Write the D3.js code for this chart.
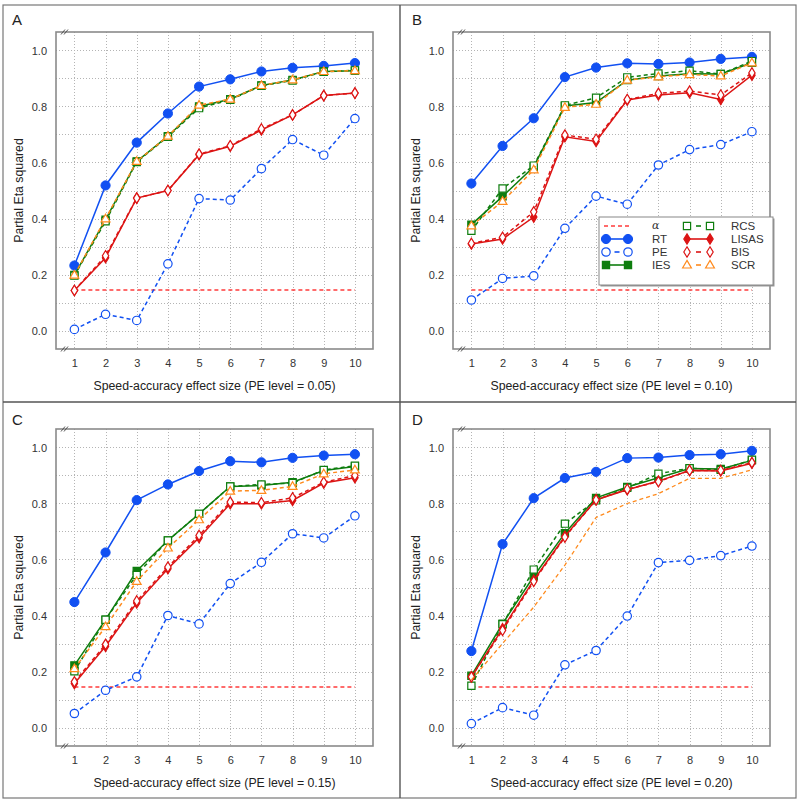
<!DOCTYPE html>
<html>
<head>
<meta charset="utf-8">
<script src="https://cdn.jsdelivr.net/npm/d3@7"></script>
<style>
  html, body { margin: 0; padding: 0; background: #fff; }
  svg { display: block; font-family: "Liberation Sans", Arial, sans-serif; }
</style>
</head>
<body>
<svg id="chart" width="800" height="800"></svg>
<script>
// Data
const effectSizes = [1, 2, 3, 4, 5, 6, 7, 8, 9, 10];
const panelLetters = ['A', 'B', 'C', 'D'];
const peLevels = ['0.05', '0.10', '0.15', '0.20'];
const yTicks = [0.0, 0.2, 0.4, 0.6, 0.8, 1.0];
const yGrid = [0.0, 0.1, 0.2, 0.3, 0.4, 0.5, 0.6, 0.7, 0.8, 0.9, 1.0];
const alphaLevel = 0.145;

// one row per panel (A, B, C, D)
const RT = [
    [0.232, 0.518, 0.671, 0.775, 0.871, 0.897, 0.925, 0.938, 0.945, 0.955],
    [0.525, 0.659, 0.758, 0.905, 0.939, 0.954, 0.952, 0.957, 0.970, 0.977],
    [0.448, 0.625, 0.812, 0.868, 0.916, 0.951, 0.947, 0.963, 0.971, 0.976],
    [0.273, 0.655, 0.819, 0.891, 0.913, 0.962, 0.964, 0.973, 0.976, 0.988]
];
const PE = [
    [0.004, 0.058, 0.036, 0.238, 0.471, 0.466, 0.578, 0.682, 0.626, 0.757],
    [0.109, 0.186, 0.195, 0.365, 0.480, 0.451, 0.591, 0.646, 0.664, 0.710],
    [0.050, 0.133, 0.181, 0.400, 0.370, 0.514, 0.590, 0.692, 0.677, 0.756],
    [0.014, 0.071, 0.044, 0.224, 0.275, 0.398, 0.589, 0.597, 0.614, 0.648]
];
const IES = [
    [0.198, 0.396, 0.604, 0.694, 0.800, 0.826, 0.875, 0.895, 0.925, 0.928],
    [0.378, 0.479, 0.585, 0.802, 0.814, 0.894, 0.909, 0.917, 0.916, 0.956],
    [0.222, 0.385, 0.559, 0.668, 0.763, 0.861, 0.864, 0.876, 0.918, 0.932],
    [0.185, 0.371, 0.540, 0.694, 0.820, 0.859, 0.892, 0.925, 0.923, 0.954]
];
const RCS = [
    [0.196, 0.390, 0.602, 0.692, 0.794, 0.824, 0.874, 0.893, 0.924, 0.929],
    [0.356, 0.507, 0.589, 0.804, 0.831, 0.904, 0.918, 0.928, 0.916, 0.962],
    [0.201, 0.385, 0.545, 0.668, 0.763, 0.861, 0.868, 0.873, 0.920, 0.935],
    [0.149, 0.369, 0.564, 0.728, 0.811, 0.856, 0.906, 0.926, 0.920, 0.956]
];
const LISAS = [
    [0.143, 0.260, 0.473, 0.500, 0.628, 0.658, 0.716, 0.770, 0.839, 0.848],
    [0.309, 0.327, 0.405, 0.692, 0.675, 0.823, 0.841, 0.849, 0.825, 0.912],
    [0.157, 0.290, 0.445, 0.567, 0.678, 0.799, 0.799, 0.811, 0.873, 0.892],
    [0.181, 0.353, 0.526, 0.683, 0.813, 0.849, 0.880, 0.918, 0.916, 0.944]
];
const BIS = [
    [0.143, 0.267, 0.473, 0.500, 0.630, 0.660, 0.720, 0.770, 0.839, 0.848],
    [0.311, 0.333, 0.424, 0.698, 0.683, 0.825, 0.847, 0.855, 0.841, 0.920],
    [0.163, 0.297, 0.452, 0.573, 0.686, 0.805, 0.803, 0.820, 0.876, 0.900],
    [0.181, 0.347, 0.522, 0.680, 0.813, 0.851, 0.878, 0.918, 0.918, 0.946]
];
const SCR = [
    [0.198, 0.399, 0.604, 0.694, 0.805, 0.826, 0.875, 0.895, 0.925, 0.928],
    [0.374, 0.461, 0.574, 0.797, 0.808, 0.894, 0.906, 0.914, 0.909, 0.956],
    [0.210, 0.360, 0.522, 0.641, 0.742, 0.844, 0.847, 0.861, 0.906, 0.920],
    [0.170, 0.300, 0.430, 0.580, 0.750, 0.800, 0.835, 0.890, 0.890, 0.920]
];

// Series styling
const BLUE = '#1150f2', GREEN = '#0e7d0e', RED = '#dc1414', ORANGE = '#ff8a1c', ALPHA_RED = '#ff3b3b';
const series = [
    { name: 'PE', values: PE, color: BLUE, dash: '4,3', marker: 'circle', filled: false },
    { name: 'RT', values: RT, color: BLUE, dash: null, marker: 'circle', filled: true },
    { name: 'IES', values: IES, color: GREEN, dash: null, marker: 'square', filled: true },
    { name: 'RCS', values: RCS, color: GREEN, dash: '4,3', marker: 'square', filled: false },
    { name: 'LISAS', values: LISAS, color: RED, dash: null, marker: 'diamond', filled: true },
    { name: 'BIS', values: BIS, color: RED, dash: '4,3', marker: 'diamond', filled: false },
    { name: 'SCR', values: SCR, color: ORANGE, dash: '4,3', marker: 'triangle', filled: false }
];
const byName = Object.fromEntries(series.map(s => [s.name, s]));
const legendCols = [['alpha', 'RT', 'PE', 'IES'], ['RCS', 'LISAS', 'BIS', 'SCR']];

// Layout: panel origin and plot rect (relative)
const panels = [
    { ox: 0, oy: 0, left: 56, top: 32 },
    { ox: 400, oy: 0, left: 53, top: 32 },
    { ox: 0, oy: 400, left: 56, top: 29 },
    { ox: 400, oy: 400, left: 53, top: 29 }
];
const plotW = 317, plotH = 317;

const svg = d3.select('#chart');

function markerPath(type) {
    switch (type) {
        case 'circle': return null;
        case 'square': return 'M-3.6,-3.6H3.6V3.6H-3.6Z';
        case 'diamond': return 'M0,-5.2L3.2,0L0,5.2L-3.2,0Z';
        case 'triangle': return 'M0,-4.6L4.4,3L-4.4,3Z';
    }
}

function drawMarker(g, type, filled, color, x, y) {
    if (type === 'circle') {
        g.append('circle')
            .attr('cx', x).attr('cy', y)
            .attr('r', filled ? 4.6 : 4.2)
            .attr('fill', filled ? color : '#fff')
            .attr('stroke', color)
            .attr('stroke-width', filled ? 1 : 1.2);
    } else {
        g.append('path')
            .attr('d', markerPath(type))
            .attr('transform', `translate(${x},${y})`)
            .attr('fill', filled ? color : '#fff')
            .attr('stroke', color)
            .attr('stroke-width', 1.2);
    }
}

// Outer frame and dividers
svg.append('rect')
    .attr('x', 3).attr('y', 5).attr('width', 793).attr('height', 793)
    .attr('fill', 'none').attr('stroke', '#777').attr('stroke-width', 1.2);
svg.append('line').attr('x1', 400).attr('x2', 400).attr('y1', 5).attr('y2', 798)
    .attr('stroke', '#555').attr('stroke-width', 1.4);
svg.append('line').attr('x1', 3).attr('x2', 796).attr('y1', 402).attr('y2', 402)
    .attr('stroke', '#555').attr('stroke-width', 1.4);

panels.forEach((p, i) => {
    const g = svg.append('g').attr('transform', `translate(${p.ox},${p.oy})`);
    const x = d3.scaleLinear().domain([0.41, 10.58]).range([p.left, p.left + plotW]);
    const y = d3.scaleLinear().domain([-0.066, 1.066]).range([p.top + plotH, p.top]);

    // panel letter
    g.append('text')
        .attr('x', 12).attr('y', 25)
        .attr('font-size', 15).attr('fill', '#222')
        .text(panelLetters[i]);

    // grid
    const grid = g.append('g')
        .attr('stroke', '#b4b4b4').attr('stroke-width', 1).attr('stroke-dasharray', '1,2');
    grid.selectAll('line.h').data(yGrid).join('line')
        .attr('x1', p.left).attr('x2', p.left + plotW)
        .attr('y1', d => Math.round(y(d)) + 0.5).attr('y2', d => Math.round(y(d)) + 0.5);
    grid.selectAll('line.v').data(effectSizes).join('line')
        .attr('y1', p.top).attr('y2', p.top + plotH)
        .attr('x1', d => Math.round(x(d)) + 0.5).attr('x2', d => Math.round(x(d)) + 0.5);

    // axes (labels only, no tick marks)
    const yAxis = g.append('g')
        .attr('transform', `translate(${p.left},0)`)
        .call(d3.axisLeft(y).tickValues(yTicks).tickFormat(d3.format('.1f')).tickSize(0).tickPadding(9));
    const xAxis = g.append('g')
        .attr('transform', `translate(0,${p.top + plotH})`)
        .call(d3.axisBottom(x).tickValues(effectSizes).tickFormat(d3.format('d')).tickSize(0).tickPadding(10));
    [xAxis, yAxis].forEach(a => {
        a.select('.domain').remove();
        a.selectAll('text').attr('font-size', 11).attr('fill', '#333')
            .attr('font-family', '"Liberation Sans", Arial, sans-serif');
    });

    // frame
    g.append('rect')
        .attr('x', p.left).attr('y', p.top).attr('width', plotW).attr('height', plotH)
        .attr('fill', 'none').attr('stroke', '#8a8a8a').attr('stroke-width', 1.6);

    // axis break marks
    [p.top, p.top + plotH].forEach(yy => {
        [0, 3].forEach(dx => {
            g.append('line')
                .attr('x1', p.left + 5 + dx).attr('y1', yy + 2.5)
                .attr('x2', p.left + 9 + dx).attr('y2', yy - 2.5)
                .attr('stroke', '#555').attr('stroke-width', 1);
        });
    });

    // axis titles
    g.append('text')
        .attr('x', p.left + plotW / 2).attr('y', p.top + plotH + 41)
        .attr('text-anchor', 'middle').attr('font-size', 12.3).attr('fill', '#222')
        .text(`Speed-accuracy effect size (PE level = ${peLevels[i]})`);
    g.append('text')
        .attr('transform', `translate(${p.left - 33},${p.top + plotH / 2}) rotate(-90)`)
        .attr('text-anchor', 'middle').attr('font-size', 12.3).attr('fill', '#222')
        .text('Partial Eta squared');

    // alpha line
    g.append('line')
        .attr('x1', x(effectSizes[0])).attr('x2', x(effectSizes[effectSizes.length - 1]))
        .attr('y1', y(alphaLevel)).attr('y2', y(alphaLevel))
        .attr('stroke', ALPHA_RED).attr('stroke-width', 1.5).attr('stroke-dasharray', '4,3');

    // series
    const line = d3.line().x((d, j) => x(effectSizes[j])).y(d => y(d));
    series.forEach(s => {
        const vals = s.values[i];
        const noMarkers = s.name === 'SCR' && i === 3;
        g.append('path')
            .datum(vals)
            .attr('d', line)
            .attr('fill', 'none')
            .attr('stroke', s.color)
            .attr('stroke-width', noMarkers ? 1.3 : 1.5)
            .attr('stroke-dasharray', s.dash);
        if (!noMarkers) {
            const mg = g.append('g');
            vals.forEach((v, j) => drawMarker(mg, s.marker, s.filled, s.color, x(effectSizes[j]), y(v)));
        }
    });

    // legend in panel B
    if (i === 1) {
        const lg = g.append('g').attr('transform', 'translate(199,217)');
        lg.append('rect').attr('x', 1.5).attr('y', 1.5).attr('width', 174).attr('height', 68)
            .attr('fill', '#999');
        lg.append('rect').attr('x', 0).attr('y', 0).attr('width', 174).attr('height', 68)
            .attr('fill', '#fff').attr('stroke', '#888').attr('stroke-width', 1);
        const rowY = [9, 22, 35, 48];
        const colX = [{ s: 7, e: 29, t: 53 }, { s: 88, e: 111, t: 132 }];
        legendCols.forEach((col, c) => {
            col.forEach((name, r) => {
                const cx = colX[c], yy = rowY[r];
                if (name === 'alpha') {
                    lg.append('line').attr('x1', cx.s - 2).attr('x2', cx.e + 2).attr('y1', yy).attr('y2', yy)
                        .attr('stroke', ALPHA_RED).attr('stroke-width', 1.5).attr('stroke-dasharray', '4,3');
                    lg.append('text').attr('x', cx.t).attr('y', yy + 3)
                        .attr('font-size', 11).attr('fill', '#333').attr('font-style', 'italic')
                        .attr('font-family', '"DejaVu Serif", serif')
                        .text('α');
                    return;
                }
                const s = byName[name];
                const mid = (cx.s + cx.e) / 2;
                lg.append('line')
                    .attr('x1', s.dash ? mid - 2.5 : cx.s).attr('x2', s.dash ? mid + 2.5 : cx.e)
                    .attr('y1', yy).attr('y2', yy)
                    .attr('stroke', s.color).attr('stroke-width', 1.6);
                drawMarker(lg, s.marker, s.filled, s.color, cx.s, yy);
                drawMarker(lg, s.marker, s.filled, s.color, cx.e, yy);
                lg.append('text').attr('x', cx.t).attr('y', yy + 4)
                    .attr('font-size', 11.5).attr('fill', '#333')
                    .text(name);
            });
        });
    }
});
</script>
</body>
</html>
